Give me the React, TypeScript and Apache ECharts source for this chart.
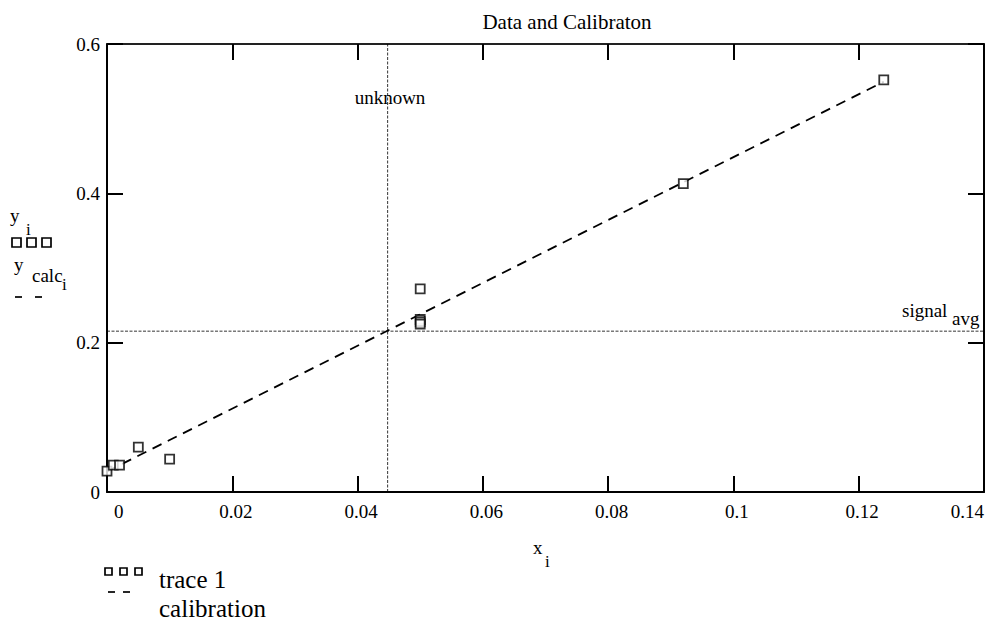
import React, { useEffect, useRef } from "react";
import * as echarts from "echarts";

const xValues = [0, 0.001, 0.002, 0.005, 0.01, 0.05, 0.05, 0.05, 0.05, 0.092, 0.124];
const yValues = [0.028, 0.036, 0.036, 0.06, 0.044, 0.272, 0.231, 0.228, 0.225, 0.413, 0.552];
const calibX = [0, 0.001, 0.002, 0.005, 0.01, 0.05, 0.092, 0.124];
const calibY = [0.0275, 0.0317, 0.0359, 0.0486, 0.0696, 0.238, 0.4148, 0.5495];
const signalAvg = 0.2154;
const unknownX = 0.0448;
const xRange = [0, 0.14];
const yRange = [0, 0.6];
const xStep = 0.02;
const yStep = 0.2;

const FONT = "'Liberation Serif', 'DejaVu Serif', serif";

export default function App() {
  const ref = useRef<HTMLDivElement>(null);
  useEffect(() => {
    if (!ref.current) return;
    const chart = echarts.init(ref.current, undefined, { renderer: "svg" });
    const axisLine = { onZero: false, lineStyle: { color: "#000", width: 2 } };
    const axisTick = { inside: true, length: 16, lineStyle: { color: "#000", width: 2 } };
    const txt = (text: string, x: number, y: number, size: number, align = "left") => ({
      type: "text",
      x,
      y,
      silent: true,
      style: { text, font: `${size}px ${FONT}`, fill: "#000", align, verticalAlign: "middle" },
    });
    const sq = (x: number, y: number, s: number) => ({
      type: "rect",
      silent: true,
      shape: { x, y, width: s, height: s },
      style: { fill: "#fff", stroke: "#000", lineWidth: 1.7 },
    });
    const dash = (x1: number, x2: number, y: number) => ({
      type: "line",
      silent: true,
      shape: { x1, y1: y, x2, y2: y },
      style: { stroke: "#000", lineWidth: 1.7 },
    });
    chart.setOption({
      animation: false,
      backgroundColor: "#fff",
      grid: { left: 107, right: 9, top: 44, bottom: 129, containLabel: false },
      xAxis: [
        {
          type: "value",
          min: xRange[0],
          max: xRange[1],
          interval: xStep,
          position: "bottom",
          axisLine,
          axisTick,
          splitLine: { show: false },
          axisLabel: {
            fontFamily: FONT,
            fontSize: 19,
            color: "#000",
            margin: 10,
            padding: [0, 0, 0, 7],
            alignMinLabel: "left",
            alignMaxLabel: "right",
          },
        },
        {
          type: "value",
          min: xRange[0],
          max: xRange[1],
          interval: xStep,
          position: "top",
          axisLine: { onZero: false, lineStyle: { color: "#222", width: 2 } },
          axisTick,
          splitLine: { show: false },
          axisLabel: { show: false },
        },
      ],
      yAxis: [
        {
          type: "value",
          min: yRange[0],
          max: yRange[1],
          interval: yStep,
          position: "left",
          axisLine,
          axisTick,
          splitLine: { show: false },
          axisLabel: { fontFamily: FONT, fontSize: 19, color: "#000", margin: 7 },
        },
        {
          type: "value",
          min: yRange[0],
          max: yRange[1],
          interval: yStep,
          position: "right",
          axisLine,
          axisTick,
          splitLine: { show: false },
          axisLabel: { show: false },
        },
      ],
      series: [
        {
          type: "line",
          name: "signal avg",
          data: [
            [xRange[0], signalAvg],
            [xRange[1], signalAvg],
          ],
          showSymbol: false,
          silent: true,
          lineStyle: { color: "#000", width: 0.8, type: [3, 1.5] },
          z: 2,
        },
        {
          type: "line",
          name: "unknown",
          data: [
            [unknownX, yRange[0]],
            [unknownX, yRange[1]],
          ],
          showSymbol: false,
          silent: true,
          lineStyle: { color: "#000", width: 0.8, type: [3, 1.5] },
          z: 2,
        },
        {
          type: "line",
          name: "calibration",
          data: calibX.map((x, i) => [x, calibY[i]]),
          showSymbol: false,
          silent: true,
          lineStyle: { color: "#000", width: 1.8, type: [10, 7] },
          z: 3,
        },
        {
          type: "scatter",
          name: "trace 1",
          data: xValues.map((x, i) => [x, yValues[i]]),
          symbol: "rect",
          symbolSize: 9,
          silent: true,
          itemStyle: { color: "#fff", borderColor: "#000", borderWidth: 1.8 },
          z: 5,
        },
      ],
      graphic: [
        txt("Data and Calibraton", 567, 22, 21, "center"),
        txt("unknown", 390, 97, 19, "center"),
        txt("signal", 902, 310, 19),
        txt("avg", 952, 318, 19),
        txt("x", 533, 547, 19),
        txt("i", 545, 561, 17),
        txt("y", 10, 215, 19),
        txt("i", 26, 229, 17),
        sq(12, 238, 9),
        sq(27, 238, 9),
        sq(42, 238, 9),
        txt("y", 14, 264, 19),
        txt("calc", 32, 275, 19),
        txt("i", 62, 284, 17),
        dash(15, 22, 297),
        dash(35, 42, 297),
        sq(105, 568, 7),
        sq(120, 568, 7),
        sq(135, 568, 7),
        txt("trace 1", 159, 579, 25),
        dash(108, 115, 592),
        dash(123, 130, 592),
        txt("calibration", 159, 608, 25),
      ],
    });
    return () => chart.dispose();
  }, []);
  return (
    <div
      ref={ref}
      style={{ position: "fixed", left: 0, top: 0, width: 993, height: 621, background: "#fff" }}
    />
  );
}
